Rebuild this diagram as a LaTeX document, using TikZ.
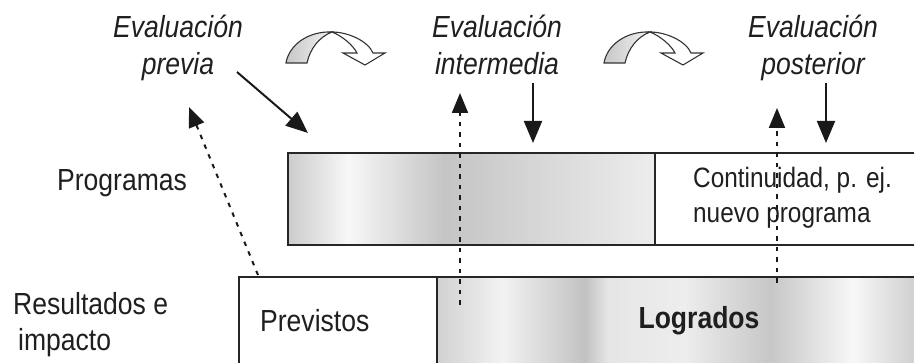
\documentclass[tikz,border=0pt]{standalone}
\usepackage{fontspec}
\setmainfont{Liberation Sans}[FakeStretch=0.87]
\usetikzlibrary{arrows.meta}
\definecolor{g76}{gray}{0.76}
\definecolor{g77}{gray}{0.77}
\definecolor{g78}{gray}{0.78}
\definecolor{g80}{gray}{0.80}
\definecolor{g82}{gray}{0.82}
\definecolor{g90}{gray}{0.90}
\definecolor{g93}{gray}{0.93}
\definecolor{g95}{gray}{0.95}
\definecolor{g97}{gray}{0.97}
\definecolor{linec}{gray}{0.15}
\pgfdeclarehorizontalshading{topshade}{100bp}{color(0bp)=(g80); color(25bp)=(g80); color(33.2bp)=(g97); color(46.3bp)=(g77); color(75bp)=(g93); color(100bp)=(g93)}
\pgfdeclarehorizontalshading{botshade}{100bp}{color(0bp)=(g82); color(25bp)=(g82); color(31.5bp)=(g95); color(39.8bp)=(g76); color(42.1bp)=(g90); color(49.7bp)=(g93); color(58.3bp)=(g78); color(66.6bp)=(g97); color(73.4bp)=(g80); color(100bp)=(g80)}
\tikzset{
  txt/.style={inner sep=0pt, text=black!88, font=\fontsize{30.5}{37}\selectfont},
  evtxt/.style={txt, align=center, font=\fontsize{30.5}{37}\selectfont\itshape},
  boxpart/.style={rectangle, draw=linec, line width=2.2pt, inner sep=0pt, anchor=north west},
  solidarrow/.style={draw=black!90, line width=2pt, -{Triangle[length=22pt,width=18pt]}},
  dotarrow/.style={draw=black!90, line width=2pt, dash pattern=on 4.5pt off 6pt, -{Triangle[length=20pt,width=16pt]}},
  pics/curvarrow/.style={code={
    \path[draw=black!80, line width=1.1pt, fill=white]
      (46,-31) .. controls (62,-31) and (82,-22) .. (87,-10) -- (99,-10) -- (79,2) -- (57,-10) -- (71,-10)
      .. controls (67,-18) and (56,-27) .. (46,-31) -- cycle;
    \path[draw=black!80, line width=1.1pt, left color=g78, right color=g95]
      (0,0) -- (21,0) .. controls (24,-14) and (33,-26) .. (46,-31)
      .. controls (22,-32) and (3,-18) .. (0,0) -- cycle;
  }}
}
\begin{document}
\begin{tikzpicture}[x=1pt,y=-1pt]
\useasboundingbox (0,0) rectangle (914,363);
\begin{scope}
\clip (0,0) rectangle (914,363);
% boxes
\node[boxpart, shading=topshade, minimum width=367pt, minimum height=92pt] (progA) at (287,152) {};
\node[boxpart, fill=white, minimum width=300pt, minimum height=92pt] (progB) at (654,152) {};
\node[boxpart, fill=white, minimum width=198pt, minimum height=110pt] (resA) at (238,276) {};
\node[boxpart, shading=botshade, minimum width=500pt, minimum height=110pt] (resB) at (436,276) {};
% texts
\node[evtxt, anchor=base] (evprev) at (178,75) {Evaluación\\previa};
\node[evtxt, anchor=base] (evint) at (497,75) {Evaluación\\intermedia};
\node[evtxt, anchor=base] (evpost) at (813,75) {Evaluación\\posterior};
\node[txt, anchor=base west] (prog) at (57,191) {Programas};
\node[txt, anchor=base west, align=left, font=\fontsize{30.5}{36}\selectfont] (res) at (13,351) {Resultados e\\\hspace*{5pt}impacto};
\node[txt, anchor=base west] (prev) at (260,332) {Previstos};
\node[txt, anchor=base, font=\fontsize{30.5}{37}\selectfont\bfseries] (logr) at (699,329) {Logrados};
\node[txt, anchor=base west, align=left, font=\fontsize{28}{35}\selectfont] (cont) at (693,223) {Continuidad, p. ej.\\nuevo programa};
% curved arrows
\pic at (286,63) {curvarrow};
\pic at (604,63) {curvarrow};
% arrows
\coordinate (a1s) at (237,72);
\coordinate (a1e) at (308,133);
\coordinate (a2s) at (533,83);
\coordinate (a2e) at (533,143);
\coordinate (a3s) at (826,83);
\coordinate (a3e) at (826,143);
\coordinate (d1s) at (258,275);
\coordinate (d1e) at (189,107);
\coordinate (d2s) at (460,305);
\coordinate (d2e) at (460,93);
\coordinate (d3s) at (777,283);
\coordinate (d3e) at (777,108);
\draw[solidarrow] (a1s) -- (a1e);
\draw[solidarrow] (a2s) -- (a2e);
\draw[solidarrow] (a3s) -- (a3e);
\draw[dotarrow] (d1s) -- (d1e);
\draw[dotarrow] (d2s) -- (d2e);
\draw[dotarrow] (d3s) -- (d3e);
\end{scope}
\end{tikzpicture}
\end{document}
